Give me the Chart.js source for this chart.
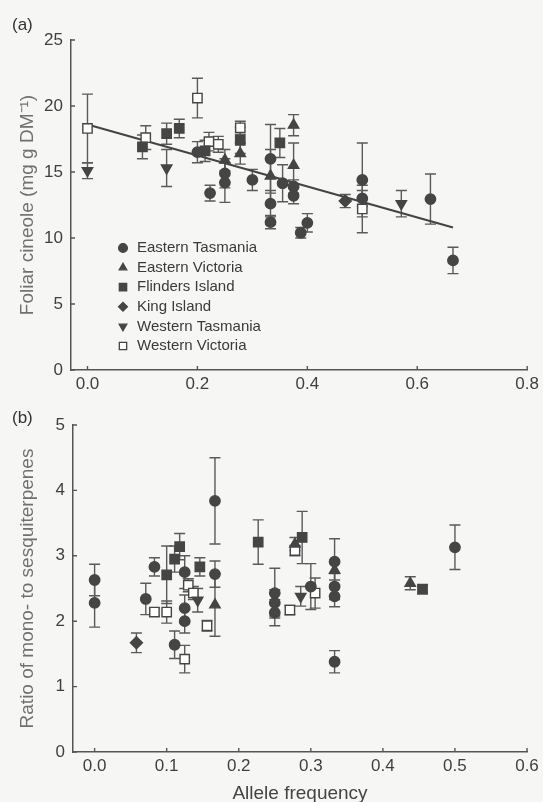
<!DOCTYPE html>
<html>
<head>
<meta charset="utf-8">
<script src="https://cdn.jsdelivr.net/npm/chart.js@4.4.1/dist/chart.umd.min.js"></script>
<style>
  html, body { margin: 0; padding: 0; background: #f6f6f4; overflow: hidden; }
  #wrap { position: relative; width: 543px; height: 802px; }
  .panel { position: absolute; left: 0; width: 543px; }
  #pa { top: 0; height: 400px; }
  #pb { top: 400px; height: 402px; }
</style>
</head>
<body>
<div id="wrap">
  <div class="panel" id="pa"><canvas id="cineole" width="543" height="400"></canvas></div>
  <div class="panel" id="pb"><canvas id="ratio" width="543" height="402"></canvas></div>
</div>
<script>
// Each population: [allele frequency, mean, standard error]
const regionNames = ['Eastern Tasmania', 'Eastern Victoria', 'Flinders Island',
                     'King Island', 'Western Tasmania', 'Western Victoria'];

// (a) Foliar cineole (mg g DM-1)
const cineoleEasternTasmania = [
  [0.200, 16.5, 0.8], [0.223, 13.4, 0.6], [0.250, 14.9, 1.1], [0.250, 14.2, 1.5],
  [0.300, 14.4, 0.8], [0.333, 16.0, 2.6], [0.333, 12.6, 1.0], [0.333, 11.2, 0.5],
  [0.355, 14.15, 1.4], [0.375, 13.9, 0.5], [0.375, 13.2, 0.6], [0.388, 10.4, 0.4],
  [0.400, 11.15, 0.7], [0.500, 14.4, 2.8], [0.500, 13.0, 0.6], [0.624, 12.95, 1.9],
  [0.665, 8.3, 1.0]
];
const cineoleEasternVictoria = [
  [0.250, 15.9, 0.8], [0.278, 16.4, 0.8], [0.333, 14.7, 2.0], [0.375, 18.55, 0.8],
  [0.375, 15.5, 1.7]
];
const cineoleFlindersIsland = [
  [0.100, 16.9, 0.9], [0.144, 17.9, 0.8], [0.167, 18.3, 0.7], [0.214, 16.6, 0.8],
  [0.278, 17.4, 1.0], [0.350, 17.2, 1.1]
];
const cineoleKingIsland = [
  [0.469, 12.8, 0.5]
];
const cineoleWesternTasmania = [
  [0.000, 15.1, 0.6], [0.144, 15.3, 1.4], [0.571, 12.6, 1.0]
];
const cineoleWesternVictoria = [
  [0.000, 18.3, 2.6], [0.106, 17.6, 0.9], [0.200, 20.6, 1.5], [0.221, 17.3, 0.7],
  [0.238, 17.1, 0.6], [0.278, 18.35, 0.5], [0.500, 12.2, 1.8]
];
// fitted regression line end points (allele frequency, cineole)
const cineoleFitLine = [[0.0, 18.6], [0.665, 10.8]];

// (b) Ratio of mono- to sesquiterpenes
const ratioEasternTasmania = [
  [0.000, 2.63, 0.24], [0.000, 2.28, 0.37], [0.071, 2.34, 0.24], [0.083, 2.83, 0.14],
  [0.111, 1.64, 0.21], [0.125, 2.75, 0.25], [0.125, 2.20, 0.20], [0.125, 2.00, 0.18],
  [0.167, 3.84, 0.66], [0.167, 2.72, 0.20], [0.250, 2.43, 0.38], [0.250, 2.28, 0.20],
  [0.250, 2.13, 0.20], [0.300, 2.53, 0.35], [0.333, 2.91, 0.35], [0.333, 2.53, 0.20],
  [0.333, 2.38, 0.16], [0.333, 1.38, 0.17], [0.500, 3.13, 0.34]
];
const ratioEasternVictoria = [
  [0.167, 2.25, 0.48], [0.278, 3.18, 0.10], [0.333, 2.78, 0.15], [0.438, 2.58, 0.10]
];
const ratioFlindersIsland = [
  [0.100, 2.71, 0.44], [0.111, 2.95, 0.20], [0.118, 3.14, 0.20], [0.146, 2.83, 0.14],
  [0.227, 3.21, 0.34], [0.288, 3.28, 0.40], [0.455, 2.49, 0.07]
];
const ratioKingIsland = [
  [0.058, 1.67, 0.15]
];
const ratioWesternTasmania = [
  [0.143, 2.32, 0.18], [0.286, 2.38, 0.15]
];
const ratioWesternVictoria = [
  [0.083, 2.14, 0.06], [0.100, 2.14, 0.17], [0.125, 1.42, 0.21], [0.130, 2.55, 0.10],
  [0.137, 2.43, 0.10], [0.156, 1.93, 0.08], [0.271, 2.17, 0.07], [0.278, 3.08, 0.08],
  [0.306, 2.43, 0.23]
];

// Axis ticks
const cineoleXTicks = [0.0, 0.2, 0.4, 0.6, 0.8];
const cineoleYTicks = [0, 5, 10, 15, 20, 25];
const ratioXTicks = [0.0, 0.1, 0.2, 0.3, 0.4, 0.5, 0.6];
const ratioYTicks = [0, 1, 2, 3, 4, 5];

const FONT = '"Liberation Sans", Arial, Helvetica, sans-serif';
const INK = '#454545';
const AXIS = '#555555';

const markerStyles = [
  { pointStyle: 'circle',   radius: 5.2, rotation: 0,   fill: INK },
  { pointStyle: 'triangle', radius: 6,   rotation: 0,   fill: INK },
  { pointStyle: 'rect',     radius: 6.6, rotation: 0,   fill: INK },
  { pointStyle: 'rectRot',  radius: 6,   rotation: 0,   fill: INK },
  { pointStyle: 'triangle', radius: 6,   rotation: 180, fill: INK },
  { pointStyle: 'rect',     radius: 6.6, rotation: 0,   fill: '#ffffff' }
];

function toPoints(rows) {
  return rows.map(r => ({ x: r[0], y: r[1], se: r[2] }));
}

function regionDatasets(seriesList) {
  return seriesList.map((rows, i) => {
    const m = markerStyles[i];
    return {
      type: 'scatter',
      label: regionNames[i],
      data: toPoints(rows),
      errorBars: true,
      pointStyle: m.pointStyle,
      rotation: m.rotation,
      pointRadius: m.radius,
      pointBackgroundColor: m.fill,
      pointBorderColor: INK,
      pointBorderWidth: 1.4,
      showLine: false,
      clip: false
    };
  });
}

// Vertical error bars with caps, drawn beneath the markers
const errorBarPlugin = {
  id: 'errorBarPlugin',
  beforeDatasetsDraw(chart) {
    const { ctx } = chart;
    const xs = chart.scales.x, ys = chart.scales.y;
    const cap = 5.5;
    ctx.save();
    ctx.strokeStyle = '#5a5a5a';
    ctx.lineWidth = 1.4;
    chart.data.datasets.forEach(ds => {
      if (!ds.errorBars) return;
      ds.data.forEach(p => {
        const px = xs.getPixelForValue(p.x);
        const top = ys.getPixelForValue(p.y + p.se);
        const bot = ys.getPixelForValue(p.y - p.se);
        ctx.beginPath();
        ctx.moveTo(px, top); ctx.lineTo(px, bot);
        ctx.moveTo(px - cap, top); ctx.lineTo(px + cap, top);
        ctx.moveTo(px - cap, bot); ctx.lineTo(px + cap, bot);
        ctx.stroke();
      });
    });
    ctx.restore();
  }
};

// Short tick marks pointing into the plot area
const innerTickPlugin = {
  id: 'innerTickPlugin',
  afterDraw(chart) {
    const { ctx, chartArea } = chart;
    const len = 4;
    ctx.save();
    ctx.strokeStyle = AXIS;
    ctx.lineWidth = 1.4;
    ctx.beginPath();
    chart.scales.x.ticks.forEach(t => {
      const px = chart.scales.x.getPixelForValue(t.value);
      ctx.moveTo(px, chartArea.bottom); ctx.lineTo(px, chartArea.bottom - len);
    });
    chart.scales.y.ticks.forEach(t => {
      const py = chart.scales.y.getPixelForValue(t.value);
      ctx.moveTo(chartArea.left, py); ctx.lineTo(chartArea.left + len, py);
    });
    ctx.stroke();
    ctx.restore();
  }
};

// Panel letter in the top-left corner
const panelTagPlugin = {
  id: 'panelTag',
  afterDraw(chart, args, opts) {
    if (!opts.text) return;
    const { ctx } = chart;
    ctx.save();
    ctx.fillStyle = '#333';
    ctx.font = '17px ' + FONT;
    ctx.textBaseline = 'middle';
    ctx.textAlign = 'left';
    ctx.fillText(opts.text, opts.x, opts.y);
    ctx.restore();
  }
};

// Region key drawn inside the plot area
const regionKeyPlugin = {
  id: 'regionKey',
  afterDraw(chart, args, opts) {
    if (!opts.show) return;
    const { ctx } = chart;
    ctx.save();
    ctx.font = '15px ' + FONT;
    ctx.textBaseline = 'middle';
    ctx.textAlign = 'left';
    chart.data.datasets.forEach((ds, i) => {
      if (!ds.errorBars) return;
      const y = opts.y + i * opts.rowGap;
      ctx.fillStyle = ds.pointBackgroundColor;
      ctx.strokeStyle = ds.pointBorderColor;
      ctx.lineWidth = 1.3;
      Chart.helpers.drawPoint(ctx, {
        pointStyle: ds.pointStyle,
        rotation: ds.rotation,
        radius: ds.pointStyle === 'rect' ? 5.2 : 4.4,
        borderWidth: 1.3
      }, opts.x, y);
      ctx.fillStyle = '#3a3a3a';
      ctx.fillText(ds.label, opts.x + 14, y);
    });
    ctx.restore();
  }
};

function axisOptions(cfg) {
  return {
    x: {
      type: 'linear',
      min: cfg.xMin, max: cfg.xMax,
      afterBuildTicks: s => { s.ticks = cfg.xTicks.map(v => ({ value: v })); },
      afterFit: s => { s.height = cfg.xHeight; },
      grid: { display: false, drawTicks: false },
      border: { display: true, color: AXIS, width: 1.5 },
      ticks: {
        padding: 4,
        color: '#3f3f3f',
        font: { family: FONT, size: 17 },
        callback: v => v.toFixed(1),
        maxRotation: 0
      },
      title: cfg.xTitle ? {
        display: true,
        text: cfg.xTitle,
        color: '#444',
        font: { family: FONT, size: 19, lineHeight: 0.85 },
        padding: { top: 0, bottom: 0 }
      } : { display: false }
    },
    y: {
      type: 'linear',
      min: cfg.yMin, max: cfg.yMax,
      afterBuildTicks: s => { s.ticks = cfg.yTicks.map(v => ({ value: v })); },
      afterFit: s => { s.width = cfg.yWidth; },
      grid: { display: false, drawTicks: false },
      border: { display: true, color: AXIS, width: 1.5 },
      ticks: {
        padding: 8,
        color: '#3f3f3f',
        font: { family: FONT, size: 17 }
      },
      title: {
        display: true,
        text: cfg.yTitle,
        color: '#707070',
        font: { family: FONT, size: 19 },
        padding: { top: 16, bottom: 0 }
      }
    }
  };
}

Chart.register(errorBarPlugin, innerTickPlugin, panelTagPlugin, regionKeyPlugin);

// (a) cineole against allele frequency, with fitted line
new Chart(document.getElementById('cineole'), {
  type: 'scatter',
  data: {
    datasets: [
      ...regionDatasets([cineoleEasternTasmania, cineoleEasternVictoria, cineoleFlindersIsland,
                         cineoleKingIsland, cineoleWesternTasmania, cineoleWesternVictoria]),
      {
        type: 'line',
        label: 'fit',
        data: cineoleFitLine.map(r => ({ x: r[0], y: r[1] })),
        borderColor: '#444',
        borderWidth: 2.2,
        pointRadius: 0,
        fill: false,
        clip: false
      }
    ]
  },
  options: {
    responsive: false,
    animation: false,
    events: [],
    layout: { padding: { top: 40, right: 11, left: 0, bottom: 0 } },
    scales: axisOptions({
      xMin: -0.03, xMax: 0.8, xTicks: cineoleXTicks, xHeight: 30,
      yMin: 0, yMax: 25, yTicks: cineoleYTicks, yWidth: 71,
      yTitle: 'Foliar cineole (mg g DM\u207B\u00B9)'
    }),
    plugins: {
      legend: { display: false },
      tooltip: { enabled: false },
      panelTag: { text: '(a)', x: 12, y: 25 },
      regionKey: { show: true, x: 123, y: 248, rowGap: 19.6 }
    }
  }
});

// (b) terpene ratio against allele frequency
new Chart(document.getElementById('ratio'), {
  type: 'scatter',
  data: {
    datasets: regionDatasets([ratioEasternTasmania, ratioEasternVictoria, ratioFlindersIsland,
                              ratioKingIsland, ratioWesternTasmania, ratioWesternVictoria])
  },
  options: {
    responsive: false,
    animation: false,
    events: [],
    layout: { padding: { top: 25, right: 16, left: 0, bottom: 0 } },
    scales: axisOptions({
      xMin: -0.03, xMax: 0.6, xTicks: ratioXTicks, xHeight: 50,
      yMin: 0, yMax: 5, yTicks: ratioYTicks, yWidth: 73,
      yTitle: 'Ratio of mono- to sesquiterpenes',
      xTitle: 'Allele frequency'
    }),
    plugins: {
      legend: { display: false },
      tooltip: { enabled: false },
      panelTag: { text: '(b)', x: 12, y: 18 },
      regionKey: { show: false }
    }
  }
});
</script>
</body>
</html>
